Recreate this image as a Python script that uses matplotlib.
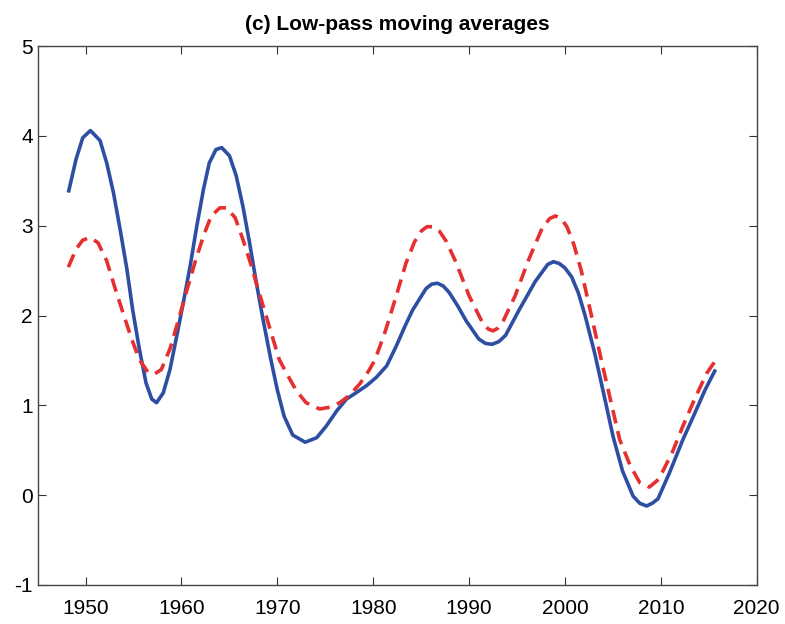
import matplotlib
matplotlib.use("Agg")
import matplotlib.pyplot as plt

# values
years_blue = [1948.2, 1949.0, 1949.7, 1950.5, 1951.5, 1952.2, 1952.9, 1953.6, 1954.3,
              1954.9, 1955.6, 1956.3, 1956.9, 1957.4, 1958.1, 1958.8, 1959.5, 1960.2,
              1960.9, 1961.6, 1962.3, 1962.9, 1963.6, 1964.2, 1965.0, 1965.7, 1966.4,
              1967.1, 1967.8, 1968.5, 1969.3, 1970.0, 1970.7, 1971.6, 1972.9, 1974.1,
              1975.1, 1976.2, 1977.2, 1978.2, 1979.3, 1980.3, 1981.4, 1982.4, 1983.3,
              1984.1, 1985.5, 1986.1, 1986.7, 1987.3, 1987.9, 1988.8, 1989.7, 1991.0,
              1991.7, 1992.4, 1993.1, 1993.8, 1995.2, 1996.9, 1998.2, 1998.8, 1999.4,
              2000.0, 2000.7, 2001.4, 2002.1, 2003.1, 2004.1, 2005.0, 2006.0, 2007.1,
              2007.8, 2008.5, 2009.1, 2009.7, 2010.9, 2012.3, 2013.4, 2014.6, 2015.7]
blue = [3.37, 3.74, 3.98, 4.06, 3.95, 3.70, 3.37, 2.96, 2.52,
        2.07, 1.63, 1.25, 1.07, 1.03, 1.14, 1.40, 1.77, 2.15,
        2.55, 3.00, 3.41, 3.70, 3.85, 3.87, 3.78, 3.56, 3.22,
        2.81, 2.37, 1.96, 1.52, 1.17, 0.88, 0.67, 0.59, 0.64,
        0.77, 0.94, 1.07, 1.14, 1.22, 1.31, 1.44, 1.66, 1.88,
        2.06, 2.30, 2.35, 2.36, 2.33, 2.26, 2.11, 1.94, 1.74,
        1.69, 1.68, 1.71, 1.78, 2.06, 2.38, 2.57, 2.60, 2.58,
        2.53, 2.43, 2.25, 2.00, 1.58, 1.10, 0.66, 0.27, -0.01,
        -0.09, -0.12, -0.09, -0.04, 0.25, 0.62, 0.88, 1.17, 1.40]

years_red = [1948.2, 1949.0, 1949.7, 1950.5, 1951.3, 1952.2, 1953.0, 1953.9, 1954.8,
             1955.6, 1956.5, 1957.2, 1957.9, 1958.8, 1959.6, 1960.5, 1961.4, 1962.3,
             1963.1, 1964.0, 1964.7, 1965.6, 1966.4, 1967.3, 1968.0, 1968.9, 1969.6,
             1970.2, 1971.1, 1972.0, 1973.0, 1974.4, 1975.5, 1976.5, 1977.5, 1978.6,
             1979.5, 1980.2, 1981.3, 1982.4, 1983.4, 1984.3, 1985.0, 1985.6, 1986.2,
             1986.9, 1987.6, 1988.6, 1990.0, 1991.4, 1992.0, 1992.5, 1993.0, 1993.6,
             1994.8, 1996.2, 1997.6, 1998.4, 1999.0, 1999.6, 2000.2, 2000.9, 2001.7,
             2002.8, 2003.8, 2004.9, 2005.7, 2006.8, 2007.8, 2008.8, 2009.8, 2011.2,
             2012.3, 2013.6, 2014.8, 2015.7]
red = [2.54, 2.74, 2.84, 2.87, 2.81, 2.61, 2.33, 2.03, 1.74,
       1.51, 1.37, 1.35, 1.40, 1.63, 1.92, 2.26, 2.59, 2.89,
       3.11, 3.20, 3.20, 3.09, 2.85, 2.55, 2.29, 1.97, 1.72,
       1.51, 1.33, 1.16, 1.03, 0.96, 0.98, 1.03, 1.11, 1.24,
       1.38, 1.51, 1.84, 2.22, 2.58, 2.82, 2.94, 2.99, 2.99,
       2.94, 2.83, 2.60, 2.22, 1.92, 1.85, 1.83, 1.86, 1.95,
       2.22, 2.62, 2.97, 3.08, 3.11, 3.08, 2.99, 2.80, 2.50,
       1.98, 1.50, 0.99, 0.62, 0.33, 0.14, 0.09, 0.18, 0.48,
       0.77, 1.09, 1.36, 1.50]

xticks = [1950, 1960, 1970, 1980, 1990, 2000, 2010, 2020]
yticks = [-1, 0, 1, 2, 3, 4, 5]

plt.rcParams['font.family'] = ['Liberation Sans Narrow', 'Liberation Sans', 'DejaVu Sans']
plt.rcParams['axes.unicode_minus'] = False

fig = plt.figure(figsize=(7.85, 6.24), dpi=100)
ax = fig.add_axes([0.048, 0.0625, 0.916, 0.8635])

ax.plot(years_blue, blue, color="#2d4ea2", lw=2.6, solid_joinstyle="round",
        solid_capstyle="butt")
ax.plot(years_red, red, color="#e6302f", lw=2.6, dashes=(3.8, 2.2),
        dash_joinstyle="round")

ax.set_xlim(1945, 2020)
ax.set_ylim(-1, 5)
ax.set_xticks(xticks)
ax.set_yticks(yticks)
ax.tick_params(direction="in", top=True, right=True, length=6, width=0.8,
               labelsize=15, colors="#333333", labelcolor="black")
ax.tick_params(axis="x", pad=10)
for s in ax.spines.values():
    s.set_color("#444444")
    s.set_linewidth(1.0)

ax.set_title("(c) Low-pass moving averages", fontsize=15, fontweight="bold", pad=12)

fig.savefig("out.png", dpi=100)
